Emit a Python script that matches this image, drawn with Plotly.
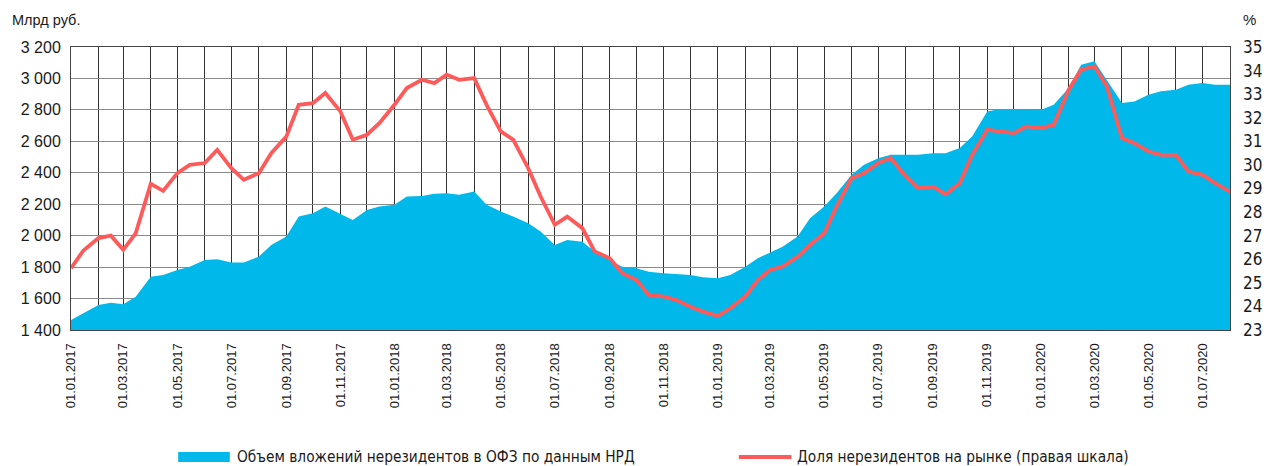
import plotly.graph_objects as go

# Dates: 1st and 15th of each month, Jan 2017 .. Aug 2020
dates = []
for yr in range(2017, 2021):
    for mo in range(1, 13):
        for d in (1, 15):
            s = f"{yr}-{mo:02d}-{d:02d}"
            if s <= "2020-08-01":
                dates.append(s)

# Объем вложений нерезидентов в ОФЗ, млрд руб. (left axis)
volume_2017 = [1463, 1506, 1559, 1574, 1563, 1612, 1739, 1750, 1782, 1803, 1846, 1850,
               1829, 1829, 1867, 1941, 1994, 2122, 2143, 2185, 2139, 2100, 2164, 2185]
volume_2018 = [2196, 2249, 2253, 2266, 2270, 2260, 2281, 2196, 2153, 2122, 2079, 2026,
               1941, 1973, 1962, 1899, 1846, 1803, 1792, 1771, 1761, 1756, 1750, 1735]
volume_2019 = [1729, 1750, 1803, 1856, 1892, 1930, 1994, 2111, 2185, 2270, 2387, 2451,
               2493, 2514, 2514, 2514, 2525, 2525, 2557, 2631, 2790, 2805, 2801, 2805]
volume_2020 = [2801, 2833, 2939, 3087, 3109, 2992, 2844, 2854, 2897, 2918, 2928, 2960,
               2971, 2960, 2960]
volume = volume_2017 + volume_2018 + volume_2019 + volume_2020

# Доля нерезидентов на рынке, % (right axis)
share_2017 = [25.62, 26.37, 26.9, 27.0, 26.4, 27.1, 29.2, 28.9, 29.65, 30.0, 30.08, 30.64,
              29.86, 29.37, 29.65, 30.5, 31.2, 32.55, 32.62, 33.05, 32.27, 31.07, 31.28, 31.77]
share_2018 = [32.55, 33.26, 33.61, 33.47, 33.83, 33.61, 33.68, 32.55, 31.42, 31.07, 29.86, 28.66,
              27.46, 27.81, 27.32, 26.33, 26.04, 25.41, 25.12, 24.49, 24.42, 24.27, 23.99, 23.78]
share_2019 = [23.6, 23.92, 24.42, 25.12, 25.55, 25.69, 26.11, 26.61, 27.1, 28.24, 29.44, 29.65,
              30.08, 30.29, 29.51, 29.01, 29.08, 28.75, 29.23, 30.43, 31.49, 31.42, 31.35, 31.63]
share_2020 = [31.56, 31.7, 33.19, 34.04, 34.18, 33.33, 31.14, 30.92, 30.57, 30.43, 30.43, 29.72,
              29.58, 29.23, 28.87]
share = share_2017 + share_2018 + share_2019 + share_2020

name_volume = "Объем вложений нерезидентов в ОФЗ по данным НРД"
name_share = "Доля нерезидентов на рынке (правая шкала)"

BLUE = "#00B8EA"
RED = "#FF5A5A"
TXT = "#1a1a1a"
NARROW = "Liberation Sans Narrow, Arial Narrow, DejaVu Sans Condensed, sans-serif"
REG = "Liberation Sans, Arial, sans-serif"

fig = go.Figure()
fig.add_trace(go.Scatter(x=dates, y=volume, mode="lines", fill="tozeroy",
                         fillcolor=BLUE, line=dict(width=0, color=BLUE),
                         name=name_volume, showlegend=False))
fig.add_trace(go.Scatter(x=dates, y=share, mode="lines", yaxis="y2",
                         line=dict(width=3.8, color=RED),
                         name=name_share, showlegend=False))

L, R, T, B = 71, 35, 47, 136
W, H = 1274, 466
pw = W - L - R
ph = H - T - B

def px(xp):
    return (xp - L) / pw

def py(yp):
    return (H - B - yp) / ph

fig.update_layout(
    width=W, height=H,
    margin=dict(l=L, r=R, t=T, b=B),
    paper_bgcolor="white", plot_bgcolor="white",
    separators=", ",
    font=dict(family=REG, size=14, color=TXT),
    xaxis=dict(
        type="date", range=["2017-01-01", "2020-08-01"],
        tick0="2017-01-01", dtick="M2", tickformat="%d.%m.%Y",
        tickangle=-90, tickfont=dict(family=REG, size=13, color=TXT),
        showgrid=True, gridcolor="#333333", gridwidth=1,
        minor=dict(dtick="M1", tick0="2017-01-01", showgrid=True,
                   gridcolor="#333333", gridwidth=1),
        showline=True, linecolor="#444", linewidth=1, mirror=True,
        ticks="", ticklabelstandoff=7, zeroline=False,
    ),
    yaxis=dict(
        range=[1400, 3200], dtick=200, tickformat=",d",
        tickfont=dict(family=REG, size=16, color=TXT),
        showgrid=True, gridcolor="#8a8a8a", gridwidth=1,
        showline=True, linecolor="#444", linewidth=1, mirror=True,
        ticks="", ticklabelstandoff=6, zeroline=False,
    ),
    yaxis2=dict(
        range=[23, 35], dtick=1, overlaying="y", side="right",
        tickfont=dict(family=NARROW, size=17, color=TXT),
        showgrid=False, showline=False, ticks="", zeroline=False,
        ticklabelstandoff=12,
    ),
    annotations=[
        dict(text="Млрд руб.", xref="paper", yref="paper", x=px(10), y=py(20),
             xanchor="left", yanchor="middle", showarrow=False,
             font=dict(family=REG, size=14.5, color=TXT)),
        dict(text="%", xref="paper", yref="paper", x=px(1250), y=py(20),
             xanchor="left", yanchor="middle", showarrow=False,
             font=dict(family=REG, size=15, color=TXT)),
        dict(text=name_volume, xref="paper", yref="paper", x=px(236), y=py(457),
             xanchor="left", yanchor="middle", showarrow=False,
             font=dict(family=NARROW, size=15.3, color=TXT)),
        dict(text=name_share, xref="paper", yref="paper", x=px(801), y=py(457),
             xanchor="left", yanchor="middle", showarrow=False,
             font=dict(family=NARROW, size=15.3, color=TXT)),
    ],
    shapes=[
        dict(type="rect", xref="paper", yref="paper",
             x0=px(179), x1=px(231), y0=py(462), y1=py(452),
             fillcolor=BLUE, line=dict(width=0)),
        dict(type="line", xref="paper", yref="paper",
             x0=px(744), x1=px(797), y0=py(457), y1=py(457),
             line=dict(color=RED, width=4)),
    ],
)

fig.write_html(
    "out.html",
    config={"displayModeBar": False},
    post_script="document.body.style.margin='0';document.body.style.padding='0';"
                "document.body.style.overflow='hidden';",
)
